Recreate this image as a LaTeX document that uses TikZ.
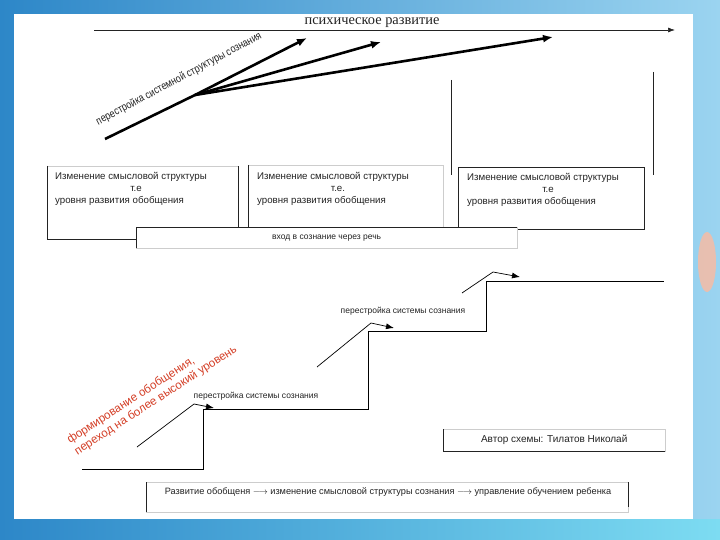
\documentclass[tikz,border=0pt]{standalone}
\usepackage{fontspec}
\setmainfont{Liberation Sans}
\newfontfamily\titlefont{Liberation Serif}
\newfontfamily\narrowfont[FakeStretch=0.82]{Liberation Sans}
\usetikzlibrary{arrows.meta}

\definecolor{skyblue}{RGB}{155,212,240}
\definecolor{deepblue}{RGB}{45,135,200}
\definecolor{stripcyan}{RGB}{125,220,242}
\definecolor{wordred}{RGB}{212,62,38}
\definecolor{edgegray}{RGB}{205,205,205}
\definecolor{inkgray}{RGB}{35,35,35}
\definecolor{blossom}{RGB}{246,188,165}

\newcommand{\meaningtext}[1]{\begin{tabular}{@{}l@{}}Изменение смысловой структуры\\
 \multicolumn{1}{@{}c@{}}{\hspace{10pt}#1}\\ уровня развития обобщения\end{tabular}}

\tikzset{
 card/.style={draw=edgegray, fill=white, inner sep=0pt, anchor=north west},
 darkedge/.style={draw=inkgray, line width=0.8pt},
 cardtext/.style={font=\fontsize{9.7}{11.8}\selectfont, text=inkgray, inner sep=0pt, anchor=north west},
 smalltext/.style={font=\fontsize{8.5}{10}\selectfont, text=inkgray, inner sep=0pt},
 titletext/.style={font=\titlefont\fontsize{14.4}{16}\selectfont, text=inkgray, inner sep=0pt},
 narrowtext/.style={font=\narrowfont\fontsize{11}{13}\selectfont, text=inkgray, inner sep=0pt},
 wordart/.style={font=\fontsize{11.6}{13.6}\selectfont, text=wordred, inner sep=0pt, align=left},
 thinarrow/.style={draw=inkgray, line width=0.7pt, -{Latex[length=7pt,width=5pt]}},
 boldarrow/.style={draw=black, line width=2.6pt, line join=round, -{Latex[length=10pt,width=8pt]}},
 stairline/.style={draw=black, line width=0.9pt},
 steparrow/.style={draw=black, line width=0.7pt, -{Latex[length=8pt,width=6pt]}}
}

\begin{document}
\begin{tikzpicture}[x=1pt, y=-1pt]
	\useasboundingbox (0,0) rectangle (720,540);
	% background of the slide
	\shade[left color=deepblue, right color=skyblue] (0,0) rectangle (720,540);
	\shade[left color=deepblue, right color=stripcyan] (0,519) rectangle (720,540);
	\fill[blossom, opacity=0.85] (707,262) ellipse (9pt and 30pt);
	\fill[white] (14,14) rectangle (693,519);

	% psychic development axis
	\coordinate (devstart) at (94,30);
	\coordinate (devend) at (675,30);
	\draw[thinarrow] (devstart) -- (devend);
	\node[titletext] (devlabel) at (372,23) {психическое развитие};

	% restructuring arrows
	\coordinate (rootstart) at (105,139);
	\coordinate (hub) at (195,95);
	\coordinate (tipA) at (307,38);
	\coordinate (tipB) at (381,42);
	\coordinate (tipC) at (553,37);
	\draw[boldarrow] (rootstart) -- (hub) -- (tipA);
	\draw[boldarrow] (hub) -- (tipB);
	\draw[boldarrow] (hub) -- (tipC);
	\node[narrowtext, rotate=28] (rebuild) at (179,79) {перестройка системной структуры сознания};

	% guide lines over the third level
	\coordinate (guideAtop) at (451,80);
	\coordinate (guideAbot) at (451,175);
	\coordinate (guideBtop) at (653,72);
	\coordinate (guideBbot) at (653,175);
	\draw[darkedge, line width=0.6pt] (guideAtop) -- (guideAbot);
	\draw[darkedge, line width=0.6pt] (guideBtop) -- (guideBbot);

	% levels of meaning structure
	\node[card, minimum width=191pt, minimum height=73pt] (levelA) at (47,166) {};
	\draw[darkedge] (levelA.north west) -- (levelA.south west) -- (levelA.south east) -- (levelA.north east);
	\node[cardtext] (levelAtext) at ([shift={(8,5)}]levelA.north west) {\meaningtext{т.е}};

	\node[card, minimum width=195pt, minimum height=74pt] (levelB) at (248,165) {};
	\draw[darkedge] (levelB.north west) -- (levelB.south west);
	\node[cardtext] (levelBtext) at ([shift={(9,6)}]levelB.north west) {\meaningtext{т.е.}};

	\node[card, draw=inkgray, line width=0.8pt, minimum width=186pt, minimum height=62pt] (levelC) at (458,167) {};
	\node[cardtext] (levelCtext) at ([shift={(9,5)}]levelC.north west) {\meaningtext{т.е}};

	\node[card, smalltext, minimum width=381pt, minimum height=21pt] (speech) at (136,227) {вход в сознание через речь};
	\draw[darkedge] (speech.south west) -- (speech.north west) -- (speech.north east);

	% staircase of generalisation
	\coordinate (stair0) at (82,469);
	\coordinate (stair1) at (203,469);
	\coordinate (stair2) at (203,409);
	\coordinate (stair3) at (368,409);
	\coordinate (stair4) at (368,331);
	\coordinate (stair5) at (486,331);
	\coordinate (stair6) at (486,281);
	\coordinate (stair7) at (664,281);
	\draw[stairline] (stair0) -- (stair1) -- (stair2) -- (stair3) -- (stair4) -- (stair5) -- (stair6) -- (stair7);

	\coordinate (riseAfoot) at (137,447);
	\coordinate (riseAtop) at (194,404);
	\coordinate (riseAtip) at (214,408);
	\draw[steparrow] (riseAfoot) -- (riseAtop) -- (riseAtip);
	\coordinate (riseBfoot) at (317,367);
	\coordinate (riseBtop) at (371,323);
	\coordinate (riseBtip) at (394,328);
	\draw[steparrow] (riseBfoot) -- (riseBtop) -- (riseBtip);
	\coordinate (riseCfoot) at (462,293);
	\coordinate (riseCtop) at (493,272);
	\coordinate (riseCtip) at (520,277);
	\draw[steparrow] (riseCfoot) -- (riseCtop) -- (riseCtip);

	\node[smalltext] (shiftA) at (256,396) {перестройка системы сознания};
	\node[smalltext] (shiftB) at (403,311) {перестройка системы сознания};

	\node[wordart, rotate=33, anchor=west] (forming) at (72,447) {формирование обобщения,\\переход на более высокий уровень};

	% author and summary chain
	\node[card, smalltext, font=\fontsize{10}{12}\selectfont, minimum width=222pt, minimum height=22pt] (author) at (443,429) {Автор схемы: Тилатов Николай};
	\draw[darkedge] (author.north west) -- (author.south west) -- (author.south east);

	\node[card, minimum width=482pt, minimum height=30pt] (chain) at (146,482) {};
	\draw[darkedge] (chain.north west) -- (chain.south west);
	\draw[darkedge] (chain.north east) -- ([yshift=5pt]chain.south east);
	\node[smalltext, font=\fontsize{9.2}{11}\selectfont] (chaintext) at (388,492) {Развитие обобщеня $\longrightarrow$ изменение смысловой структуры сознания $\longrightarrow$ управление обучением ребенка};
\end{tikzpicture}
\end{document}
